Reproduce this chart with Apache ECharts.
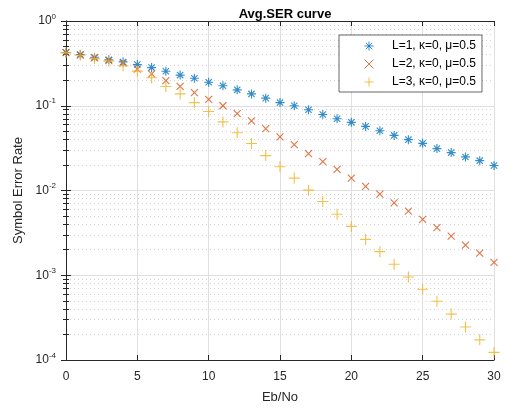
<!DOCTYPE html>
<html>
<head>
<meta charset="utf-8">
<script src="https://cdn.jsdelivr.net/npm/echarts@6/dist/echarts.min.js"></script>
<style>
html, body { margin: 0; padding: 0; background: #fff; }
#container { width: 511px; height: 410px; }
</style>
</head>
<body>
<div id="container"></div>
<script>
// Eb/No in dB
var ebno = [0, 1, 2, 3, 4, 5, 6, 7, 8, 9, 10, 11, 12, 13, 14, 15, 16, 17, 18, 19, 20, 21, 22, 23, 24, 25, 26, 27, 28, 29, 30];
// average SER
var serL1 = [0.424, 0.402, 0.374, 0.348, 0.329, 0.306, 0.282, 0.255, 0.230, 0.211, 0.189, 0.172, 0.154, 0.138, 0.123, 0.109,
    0.100, 0.0897, 0.079, 0.0703, 0.0637, 0.0571, 0.0508, 0.0447, 0.0398, 0.036, 0.0312, 0.028, 0.0249, 0.0225, 0.0197];
var serL2 = [0.424, 0.395, 0.367, 0.341, 0.318, 0.270, 0.238, 0.198, 0.169, 0.143, 0.119, 0.100, 0.0805, 0.0662, 0.0536, 0.0428,
    0.0348, 0.0272, 0.0219, 0.0177, 0.0140, 0.0112, 0.00904, 0.00716, 0.0057, 0.00456, 0.00364, 0.0029, 0.00227, 0.00182, 0.00142];
var serL3 = [0.424, 0.395, 0.360, 0.336, 0.296, 0.256, 0.214, 0.169, 0.138, 0.109, 0.0855, 0.0645, 0.0481, 0.0359, 0.0258, 0.0191,
    0.0140, 0.0101, 0.00743, 0.00525, 0.00377, 0.00265, 0.0019, 0.00135, 0.000955, 0.000684, 0.000494, 0.000348, 0.000245, 0.000173, 0.000123];
var seriesNames = ['L=1, κ=0, μ=0.5', 'L=2, κ=0, μ=0.5', 'L=3, κ=0, μ=0.5'];

var font = 'Liberation Sans, Arial, sans-serif';
var axisColor = '#262626';

function pairs(ys) {
    return ebno.map(function (x, i) { return [x, ys[i]]; });
}

var symStar = 'path://M0,-5L0,5M-5,0L5,0M-3.5,-3.5L3.5,3.5M-3.5,3.5L3.5,-3.5';
var symCross = 'path://M-5,-5L5,5M-5,5L5,-5';
var symPlus = 'path://M0,-5L0,5M-5,0L5,0';

function markSeries(name, ys, sym, size, color) {
    return {
        name: name,
        type: 'scatter',
        data: pairs(ys),
        symbol: sym,
        symbolSize: size,
        symbolKeepAspect: true,
        itemStyle: { color: color, borderColor: color, borderWidth: 1.1 },
        emphasis: { disabled: true },
        z: 5
    };
}

var dom = document.getElementById('container');
var myChart = echarts.init(dom);

var option = {
    animation: false,
    textStyle: { fontFamily: font },
    title: {
        text: 'Avg.SER curve',
        left: 280,
        textAlign: 'center',
        top: 3,
        textStyle: { fontSize: 13, fontWeight: 'bold', color: '#000', fontFamily: font }
    },
    legend: {
        orient: 'vertical',
        left: 339,
        top: 35,
        padding: [5, 6, 4, 25],
        itemWidth: 36,
        itemHeight: 9,
        itemGap: 6,
        backgroundColor: '#fff',
        borderColor: axisColor,
        borderWidth: 0.7,
        itemStyle: { borderWidth: 1 },
        textStyle: { fontSize: 12, color: '#000', fontFamily: font },
        data: seriesNames
    },
    grid: { left: 66, right: 17, top: 21, bottom: 50 },
    xAxis: [
        {
            type: 'value',
            min: 0,
            max: 30,
            interval: 5,
            position: 'bottom',
            name: 'Eb/No',
            nameLocation: 'middle',
            nameGap: 31,
            nameTextStyle: { fontSize: 13, color: axisColor },
            axisLine: { lineStyle: { color: axisColor, width: 1 } },
            axisTick: { inside: true, length: 5, lineStyle: { color: axisColor } },
            axisLabel: { fontSize: 12, color: axisColor, margin: 11 },
            splitLine: { show: true, lineStyle: { color: '#dfdfdf', width: 1 } }
        },
        {
            type: 'value',
            min: 0,
            max: 30,
            interval: 5,
            position: 'top',
            axisLine: { lineStyle: { color: axisColor, width: 1 } },
            axisTick: { inside: true, length: 5, lineStyle: { color: axisColor } },
            axisLabel: { show: false },
            splitLine: { show: false }
        }
    ],
    yAxis: [
        {
            type: 'log',
            logBase: 10,
            min: 1e-4,
            max: 1,
            position: 'left',
            name: 'Symbol Error Rate',
            nameLocation: 'middle',
            nameGap: 35,
            nameTextStyle: { fontSize: 13, color: axisColor },
            axisLine: { lineStyle: { color: axisColor, width: 1 } },
            axisTick: { inside: true, length: 5, lineStyle: { color: axisColor } },
            minorTick: { show: true, splitNumber: 9, length: 3, lineStyle: { color: axisColor } },
            axisLabel: {
                color: axisColor,
                margin: 10,
                formatter: function (v) {
                    var e = Math.round(Math.log10(v));
                    return '{b|10}{s|' + e + '}';
                },
                rich: {
                    b: { fontSize: 12, color: axisColor, fontFamily: font },
                    s: { fontSize: 8, color: axisColor, fontFamily: font, verticalAlign: 'bottom', padding: [0, 0, 9, 0] }
                }
            },
            splitLine: { show: true, lineStyle: { color: '#dfdfdf', width: 1 } },
            minorSplitLine: { show: true, lineStyle: { color: '#d2d2d2', type: [1, 3], width: 1 } }
        },
        {
            type: 'log',
            logBase: 10,
            min: 1e-4,
            max: 1,
            position: 'right',
            axisLine: { lineStyle: { color: axisColor, width: 1 } },
            axisTick: { inside: true, length: 5, lineStyle: { color: axisColor } },
            minorTick: { show: true, splitNumber: 9, length: 3, lineStyle: { color: axisColor } },
            axisLabel: { show: false },
            splitLine: { show: false }
        }
    ],
    series: [
        markSeries(seriesNames[0], serL1, symStar, 9, '#0072BD'),
        markSeries(seriesNames[1], serL2, symCross, 7, '#D95319'),
        markSeries(seriesNames[2], serL3, symPlus, 11, '#EDB120')
    ]
};

myChart.setOption(option, true);
</script>
</body>
</html>
